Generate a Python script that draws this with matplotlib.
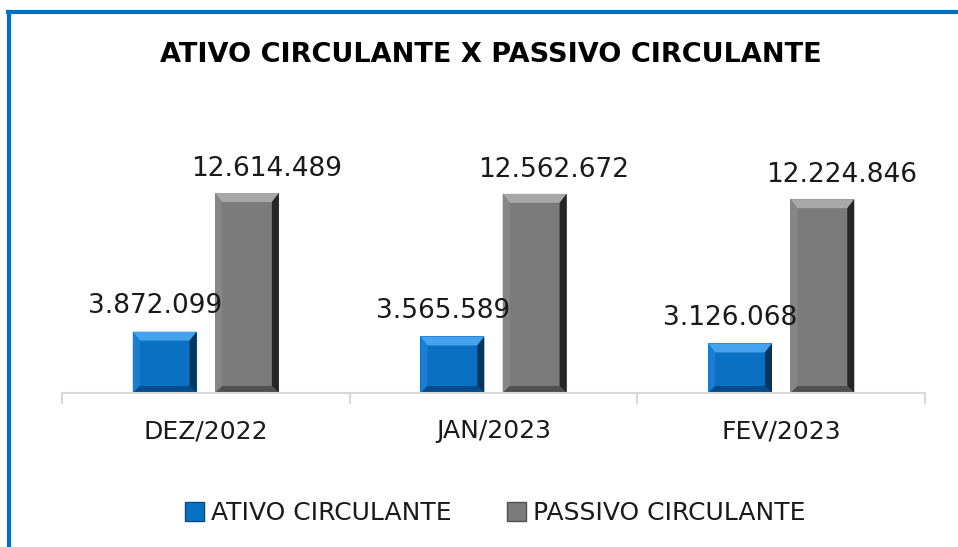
import matplotlib.pyplot as plt
import numpy as np
from matplotlib.patches import Polygon, Patch
from matplotlib.lines import Line2D
from matplotlib.transforms import IdentityTransform

categories = ["DEZ/2022", "JAN/2023", "FEV/2023"]
ativo = [3872099, 3565589, 3126068]
passivo = [12614489, 12562672, 12224846]
series_names = ["ATIVO CIRCULANTE", "PASSIVO CIRCULANTE"]


def fmt(v):
    return f"{v:,}".replace(",", ".")


# face, top, left, right, bottom
blue = ["#0a70c4", "#45a2ec", "#1a7ed0", "#03365e", "#054c88"]
gray = ["#7b7b7b", "#a8a8a8", "#868686", "#262626", "#505050"]

fig = plt.figure(figsize=(9.58, 5.47), dpi=100)
ax = fig.add_axes([0.0647, 0.2815, 0.9009, 0.4058])

x = np.arange(len(categories))
w = 0.222
b1 = ax.bar(x - 0.143, ativo, w, color=blue[0], zorder=1)
b2 = ax.bar(x + 0.143, passivo, w, color=gray[0], zorder=1)

ax.set_xlim(-0.5, 2.5)
ax.set_ylim(0, 14e6)
ax.set_yticks([])
for s in ["top", "right", "left"]:
    ax.spines[s].set_visible(False)
ax.spines["bottom"].set_color("#d9d9d9")
ax.spines["bottom"].set_linewidth(1.5)
ax.set_xticks([-0.5, 0.5, 1.5, 2.5], minor=True)
ax.set_xticks(x)
ax.set_xticklabels(categories, fontsize=18, color="#1a1a1a")
ax.tick_params(axis="x", which="major", length=0, pad=19)
ax.tick_params(axis="x", which="minor", length=8, color="#d9d9d9", width=1.5)

# bevel effect
for bars, pal in [(b1, blue), (b2, gray)]:
    for r in bars:
        x0, y0 = ax.transData.transform((r.get_x(), 0))
        x1, y1 = ax.transData.transform((r.get_x() + r.get_width(), r.get_height()))
        d, dt = 7, 9
        polys = [
            ([(x0, y1), (x1, y1), (x1 - d, y1 - dt), (x0 + d, y1 - dt)], pal[1]),
            ([(x0, y0), (x0, y1), (x0 + d, y1 - dt), (x0 + d, y0 + d)], pal[2]),
            ([(x1, y0), (x1, y1), (x1 - d, y1 - dt), (x1 - d, y0 + d)], pal[3]),
            ([(x0, y0), (x1, y0), (x1 - d, y0 + d), (x0 + d, y0 + d)], pal[4]),
        ]
        for pts, c in polys:
            ax.add_patch(Polygon(pts, closed=True, facecolor=c, edgecolor="none",
                                 transform=IdentityTransform(), zorder=2, clip_on=False))

for r, v in zip(b1, ativo):
    ax.annotate(fmt(v), (r.get_x() + r.get_width() / 2, v), xytext=(-7, 9),
                textcoords="offset points", ha="center", va="bottom",
                fontsize=19, color="#1a1a1a", zorder=5)
for r, v in zip(b2, passivo):
    ax.annotate(fmt(v), (r.get_x() + r.get_width() / 2, v), xytext=(14, 8),
                textcoords="offset points", ha="center", va="bottom",
                fontsize=19, color="#1a1a1a", zorder=5)

fig.text(0.512, 0.9, "ATIVO CIRCULANTE X PASSIVO CIRCULANTE", ha="center", va="center",
         fontsize=19.5, fontweight="bold", color="black")

handles = [Patch(facecolor=blue[0], edgecolor=blue[4]), Patch(facecolor=gray[0], edgecolor=gray[4])]
fig.legend(handles, series_names, loc="center", bbox_to_anchor=(0.517, 0.062), ncol=2,
           frameon=False, fontsize=18, handlelength=0.75, handleheight=0.75,
           handletextpad=0.3, columnspacing=2.2, labelcolor="#1a1a1a")

# blue frame (top and left)
fig.add_artist(Line2D([0.0084, 1.0], [0.978, 0.978], color="#0070c0", lw=3, transform=fig.transFigure))
fig.add_artist(Line2D([0.0094, 0.0094], [0.0, 0.978], color="#0070c0", lw=3, transform=fig.transFigure))

fig.savefig("out.png", dpi=100)
